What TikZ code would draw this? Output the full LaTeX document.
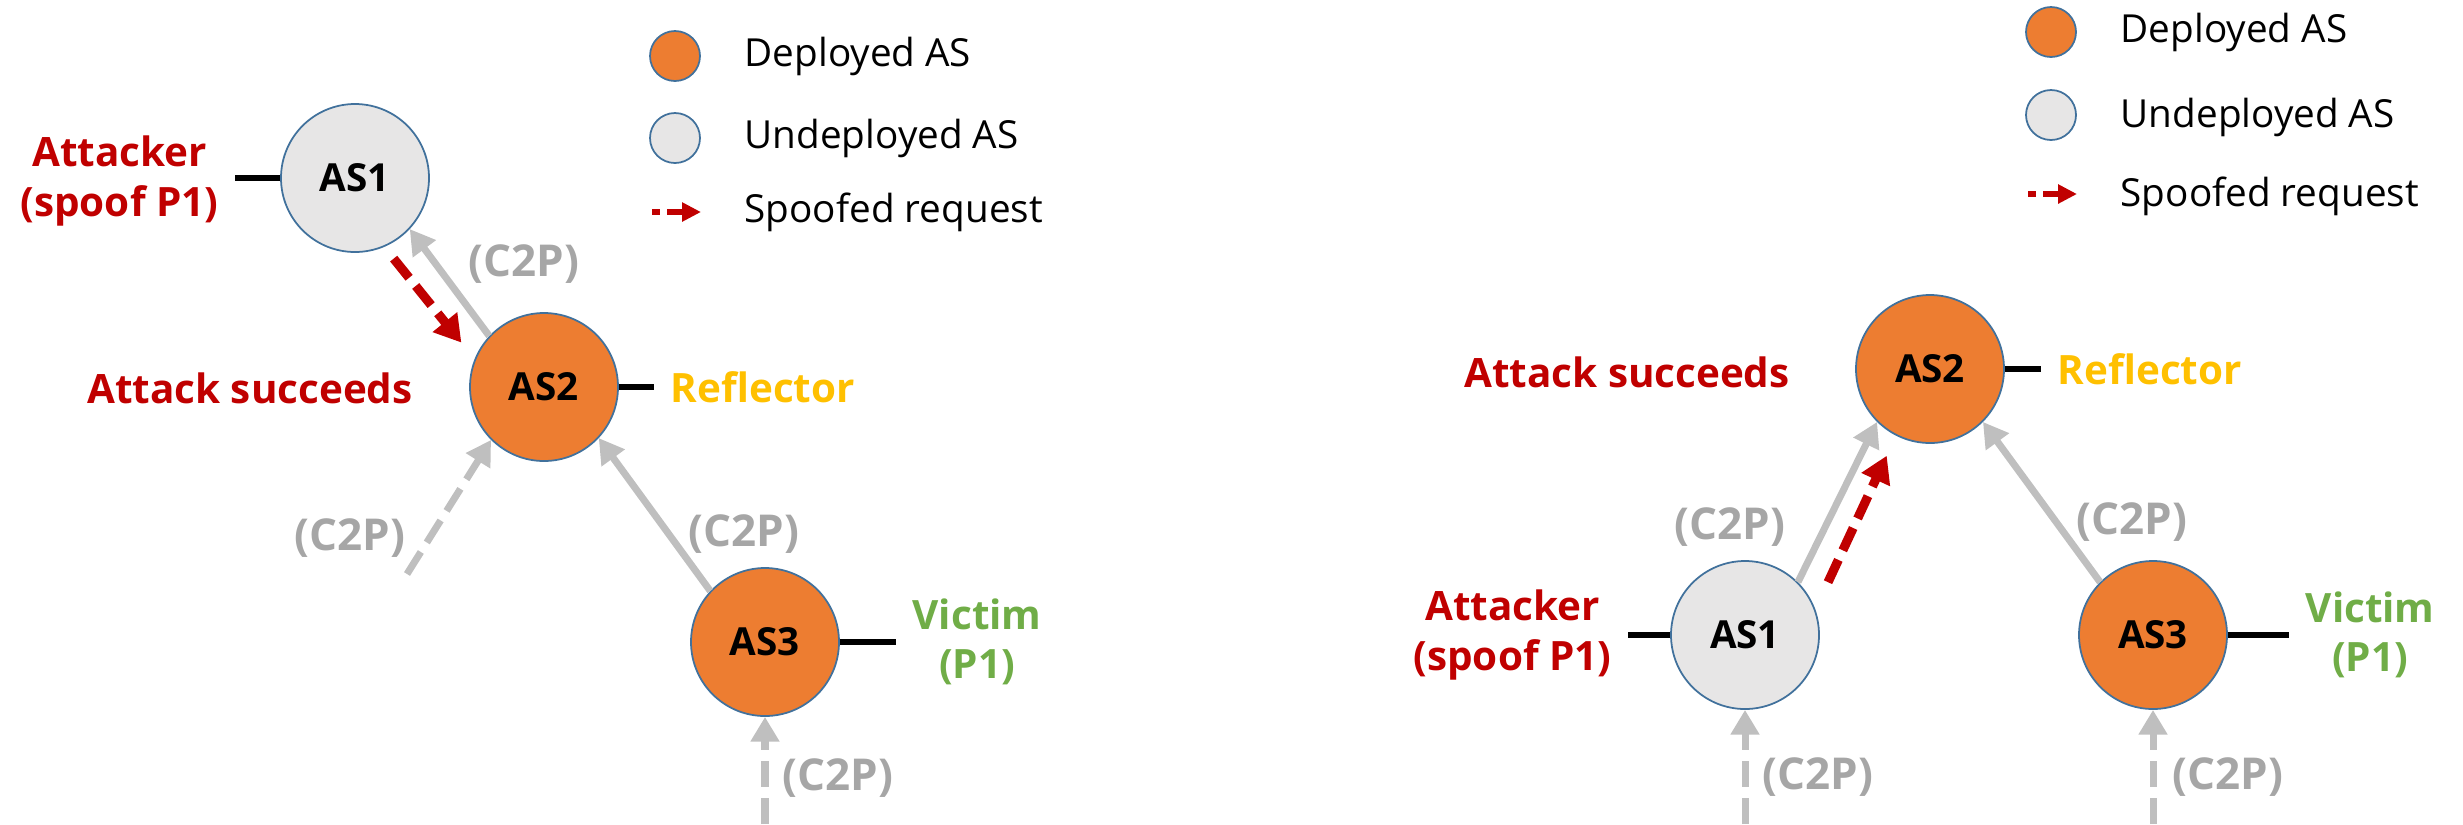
\documentclass[tikz,border=0pt]{standalone}
\usepackage{fontspec}
\setmainfont{Open Sans}
\usetikzlibrary{arrows.meta}
\definecolor{depOrange}{HTML}{ED7D31}
\definecolor{undepGray}{HTML}{E7E6E6}
\definecolor{rimBlue}{HTML}{41719C}
\definecolor{linkGray}{HTML}{BFBFBF}
\definecolor{tagGray}{HTML}{A6A6A6}
\definecolor{atkRed}{HTML}{C00000}
\definecolor{refGold}{HTML}{FFC000}
\definecolor{vicGreen}{HTML}{70AD47}
\newcommand{\lblFont}{\fontsize{11pt}{14pt}\selectfont}
\newcommand{\noteFont}{\fontsize{11.5pt}{14pt}\selectfont}
\newcommand{\tagFont}{\fontsize{12.5pt}{15pt}\selectfont}

\begin{document}
\begin{tikzpicture}[x=0.1mm,y=-0.1mm,
  asnode/.style={circle, draw=rimBlue, line width=0.5pt, minimum size=14.8mm, inner sep=0pt, font=\lblFont\bfseries},
  deployed/.style={asnode, fill=depOrange},
  undeployed/.style={asnode, fill=undepGray},
  keydot/.style={circle, draw=rimBlue, line width=0.5pt, minimum size=5mm, inner sep=0pt},
  keytext/.style={anchor=west, inner sep=0pt, font=\lblFont},
  tag/.style={inner sep=0pt, font=\tagFont\bfseries, text=tagGray},
  note/.style={inner sep=0pt, font=\noteFont\bfseries, align=center},
  c2p/.style={draw=linkGray, line width=2pt, -{Triangle[length=7pt,width=7.8pt]}},
  c2pdash/.style={c2p, dash pattern=on 7.4pt off 3.2pt},
  spoof/.style={draw=atkRed, line width=2.6pt, dash pattern=on 7pt off 3pt, -{Triangle[length=7.5pt,width=8.5pt]}},
  spoofkey/.style={draw=atkRed, line width=1.8pt, dash pattern=on 2.3pt off 2pt on 6pt off 2pt, -{Triangle[length=5.4pt,width=5.2pt]}},
  tie/.style={draw=black, line width=1.6pt, shorten >=1.6mm}
]
\useasboundingbox (0,0) rectangle (2463,824);

% left: attack from customer AS1
\node[keydot, fill=depOrange] (lkd) at (675,56) {};
\node[keytext] (lkdt) at (744,56) {Deployed AS};
\node[keydot, fill=undepGray] (lku) at (675,138) {};
\node[keytext] (lkut) at (744,138) {Undeployed AS};
\coordinate (lks) at (652,212);
\coordinate (lke) at (701,212);
\draw[spoofkey] (lks) -- (lke);
\node[keytext] (lkst) at (744,212) {Spoofed request};

\node[undeployed] (la1) at (355,178) {AS1};
\node[deployed] (la2) at (544,387) {AS2};
\node[deployed] (la3) at (765,642) {AS3};

\node[note, text=atkRed, anchor=east] (latk) at (219,181) {Attacker\\(spoof P1)};
\node[note, text=atkRed] (lwin) at (250,388) {Attack succeeds};
\node[note, text=refGold, anchor=west] (lref) at (670,387) {Reflector};
\node[note, text=vicGreen, anchor=west] (lvic) at (912,642) {Victim\\(P1)};
\draw[tie] (la1.west) -- (latk.east |- la1.west);
\draw[tie] (la2.east) -- (lref.west |- la2.east);
\draw[tie] (la3.east) -- (lvic.west |- la3.east);

\coordinate (lfeed2) at (407,574);
\coordinate (lfeed3) at (765,824);
\draw[c2p] (la2.137) -- (la1.-43);
\draw[spoof, shorten <=1.5mm, shorten >=2.1mm] (la1.-67) -- (la2.158);
\draw[c2pdash] (lfeed2) -- (la2.-135);
\draw[c2p] (la3.137) -- (la2.-43);
\draw[c2pdash] (lfeed3) -- (la3.south);
\node[tag] (lt12) at (524,264) {(C2P)};
\node[tag] (lt02) at (350,538) {(C2P)};
\node[tag] (lt32) at (744,534) {(C2P)};
\node[tag] (lt03) at (838,778) {(C2P)};

% right: attack from peer-side AS1
\node[keydot, fill=depOrange] (rkd) at (2051,32) {};
\node[keytext] (rkdt) at (2120,32) {Deployed AS};
\node[keydot, fill=undepGray] (rku) at (2051,115) {};
\node[keytext] (rkut) at (2120,117) {Undeployed AS};
\coordinate (rks) at (2028,194);
\coordinate (rke) at (2077,194);
\draw[spoofkey] (rks) -- (rke);
\node[keytext] (rkst) at (2120,196) {Spoofed request};

\node[deployed] (ra2) at (1930,369) {AS2};
\node[undeployed] (ra1) at (1745,635) {AS1};
\node[deployed] (ra3) at (2153,635) {AS3};

\node[note, text=atkRed, anchor=east] (ratk) at (1612,635) {Attacker\\(spoof P1)};
\node[note, text=atkRed] (rwin) at (1627,372) {Attack succeeds};
\node[note, text=refGold, anchor=west] (rref) at (2057,369) {Reflector};
\node[note, text=vicGreen, anchor=west] (rvic) at (2305,635) {Victim\\(P1)};
\draw[tie] (ra1.west) -- (ratk.east |- ra1.west);
\draw[tie] (ra2.east) -- (rref.west |- ra2.east);
\draw[tie] (ra3.east) -- (rvic.west |- ra3.east);

\coordinate (rfeed1) at (1745,824);
\coordinate (rfeed3) at (2153,824);
\draw[c2p] (ra1.45) -- (ra2.-135);
\draw[spoof, shorten <=3mm, shorten >=2.2mm] (ra1.20) -- (ra2.-117);
\draw[c2p] (ra3.135) -- (ra2.-45);
\draw[c2pdash] (rfeed1) -- (ra1.south);
\draw[c2pdash] (rfeed3) -- (ra3.south);
\node[tag] (rt12) at (1730,527) {(C2P)};
\node[tag] (rt32) at (2132,522) {(C2P)};
\node[tag] (rt01) at (1818,777) {(C2P)};
\node[tag] (rt03) at (2228,777) {(C2P)};
\end{tikzpicture}
\end{document}
